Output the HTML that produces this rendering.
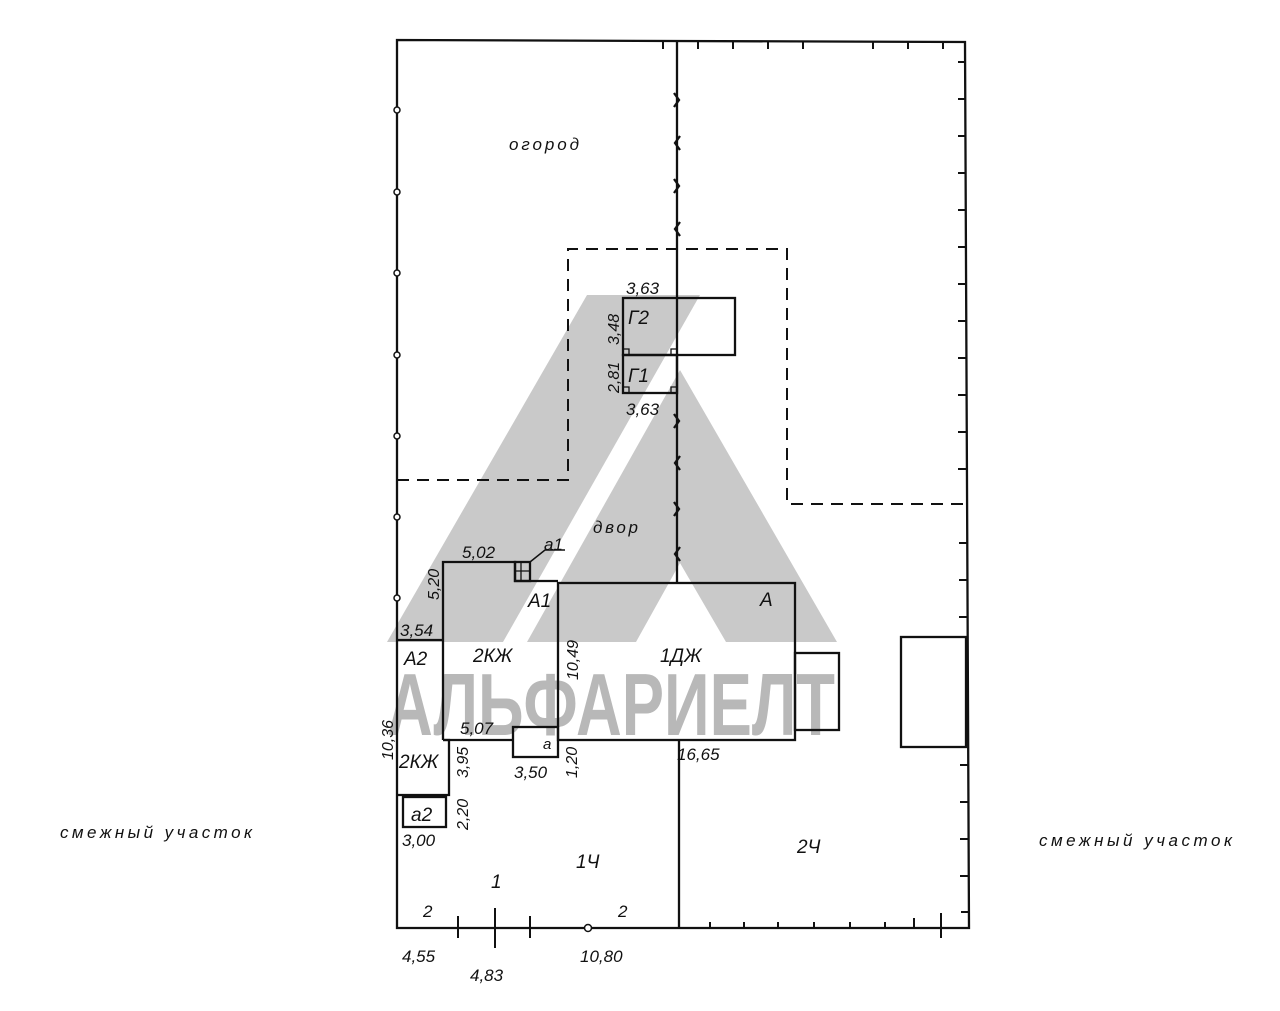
<!DOCTYPE html>
<html><head><meta charset="utf-8"><style>
html,body{margin:0;padding:0;background:#fff}
svg{display:block}
text{font-family:"Liberation Sans","DejaVu Sans",sans-serif;font-style:italic;fill:#111}
</style></head><body>
<svg width="1280" height="1011" viewBox="0 0 1280 1011" xmlns="http://www.w3.org/2000/svg">
<rect width="1280" height="1011" fill="#fff"/>
<!-- watermark -->
<polygon points="387,642 503,642 700,295 587,295" fill="#c9c9c9"/>
<polygon points="527,642 680,370 837,642 726,642 680,563 636,642" fill="#c9c9c9"/>
<text x="387" y="735" font-size="88" textLength="448" lengthAdjust="spacingAndGlyphs" style="font-style:normal;font-weight:bold;fill:#b8b8b8">АЛЬФАРИЕЛТ</text>

<g stroke="#111" stroke-width="2.3" fill="none">
<!-- boundary -->
<path d="M397,40 L965,42 L969,928 L397,928 Z"/>
<!-- center fence -->
<line x1="677" y1="41" x2="677" y2="583"/>
<line x1="679" y1="740" x2="679" y2="928"/>
<!-- buildings -->
<rect x="623" y="298" width="112" height="57"/>
<rect x="623" y="355" width="54" height="38"/>
<rect x="558" y="583" width="237" height="157"/>
<rect x="795" y="653" width="44" height="77"/>
<rect x="901" y="637" width="65" height="110"/>
<path d="M443,740 L443,562 L515,562 L515,581 L558,581"/>
<rect x="515" y="562" width="15" height="19"/>
<path d="M443,740 L513,740"/>
<rect x="513" y="727" width="45" height="30"/>
<path d="M397,640 L443,640"/>
<path d="M443,740 L449,740 L449,795 L397,795"/>
<rect x="403" y="797" width="43" height="30"/>
<path d="M530,562 L545,550 L565,550" stroke-width="1.5"/>
</g>
<g stroke="#111" stroke-width="1.3" fill="none">
<path d="M521,562 V581 M515,571 H530"/>
<path d="M623,349 h6 v6 M677,349 h-6 v6 M623,387 h6 v6 M677,387 h-6 v6"/>
</g>
<!-- dashed -->
<path d="M397,480 L568,480 L568,249 L787,249 L787,504 L965,504" stroke="#111" stroke-width="2" fill="none" stroke-dasharray="12,8"/>
<!-- ticks -->
<g stroke="#111" stroke-width="2">
<line x1="663" y1="42" x2="663" y2="49"/><line x1="698" y1="42" x2="698" y2="49"/><line x1="733" y1="42" x2="733" y2="49"/><line x1="768" y1="42" x2="768" y2="49"/><line x1="803" y1="42" x2="803" y2="49"/><line x1="873" y1="42" x2="873" y2="49"/><line x1="908" y1="42" x2="908" y2="49"/><line x1="943" y1="42" x2="943" y2="49"/>
<line x1="958" y1="62" x2="965" y2="62"/><line x1="958" y1="99" x2="965" y2="99"/><line x1="958" y1="136" x2="965" y2="136"/><line x1="958" y1="173" x2="965" y2="173"/><line x1="958" y1="210" x2="965" y2="210"/><line x1="958" y1="247" x2="965" y2="247"/><line x1="958" y1="284" x2="966" y2="284"/><line x1="958" y1="321" x2="966" y2="321"/><line x1="958" y1="358" x2="966" y2="358"/><line x1="958" y1="395" x2="966" y2="395"/><line x1="958" y1="432" x2="966" y2="432"/><line x1="958" y1="469" x2="966" y2="469"/><line x1="959" y1="543" x2="967" y2="543"/><line x1="959" y1="580" x2="967" y2="580"/><line x1="959" y1="617" x2="967" y2="617"/><line x1="960" y1="765" x2="968" y2="765"/><line x1="960" y1="802" x2="968" y2="802"/><line x1="960" y1="839" x2="968" y2="839"/><line x1="960" y1="876" x2="968" y2="876"/><line x1="961" y1="912" x2="969" y2="912"/>
<line x1="458" y1="916" x2="458" y2="938"/><line x1="495" y1="908" x2="495" y2="948"/><line x1="530" y1="916" x2="530" y2="938"/>
<line x1="710" y1="922" x2="710" y2="928"/><line x1="744" y1="922" x2="744" y2="928"/><line x1="778" y1="922" x2="778" y2="928"/><line x1="814" y1="922" x2="814" y2="928"/><line x1="850" y1="922" x2="850" y2="928"/><line x1="885" y1="922" x2="885" y2="928"/><line x1="914" y1="918" x2="914" y2="928"/><line x1="941" y1="913" x2="941" y2="938"/>
</g>
<!-- fence marks -->
<g stroke="#111" stroke-width="2.3" fill="none">
<path d="M674,93 l5,7 l-5,7"/><path d="M680,136 l-5,7 l5,7"/><path d="M674,179 l5,7 l-5,7"/><path d="M680,222 l-5,7 l5,7"/>
<path d="M674,414 l5,7 l-5,7"/><path d="M680,456 l-5,7 l5,7"/><path d="M674,502 l5,7 l-5,7"/><path d="M680,547 l-5,7 l5,7"/>
</g>
<!-- circles -->
<g stroke="#111" stroke-width="1.5" fill="#fff">
<circle cx="397" cy="110" r="3"/><circle cx="397" cy="192" r="3"/><circle cx="397" cy="273" r="3"/><circle cx="397" cy="355" r="3"/><circle cx="397" cy="436" r="3"/><circle cx="397" cy="517" r="3"/><circle cx="397" cy="598" r="3"/><circle cx="588" cy="928" r="3.5"/>
</g>
<!-- labels -->
<g font-size="17">
<text x="509" y="150" textLength="70">огород</text>
<text x="593" y="533" textLength="45">двор</text>
<text x="626" y="294">3,63</text>
<text x="626" y="415">3,63</text>
<text x="628" y="324" font-size="19">Г2</text>
<text x="628" y="382" font-size="19">Г1</text>
<text x="619" y="345" transform="rotate(-90 619 345)" font-size="16">3,48</text>
<text x="619" y="393" transform="rotate(-90 619 393)" font-size="16">2,81</text>
<text x="462" y="558">5,02</text>
<text x="544" y="550">а1</text>
<text x="439" y="600" transform="rotate(-90 439 600)" font-size="16">5,20</text>
<text x="528" y="607" font-size="19">А1</text>
<text x="760" y="606" font-size="19">А</text>
<text x="400" y="636">3,54</text>
<text x="404" y="665" font-size="19">А2</text>
<text x="473" y="662" font-size="19">2КЖ</text>
<text x="660" y="662" font-size="19">1ДЖ</text>
<text x="578" y="680" transform="rotate(-90 578 680)" font-size="16">10,49</text>
<text x="460" y="734">5,07</text>
<text x="543" y="749" font-size="15">а</text>
<text x="514" y="778">3,50</text>
<text x="577" y="778" transform="rotate(-90 577 778)" font-size="16">1,20</text>
<text x="677" y="760">16,65</text>
<text x="393" y="760" transform="rotate(-90 393 760)" font-size="16">10,36</text>
<text x="399" y="768" font-size="19">2КЖ</text>
<text x="468" y="778" transform="rotate(-90 468 778)" font-size="16">3,95</text>
<text x="468" y="830" transform="rotate(-90 468 830)" font-size="16">2,20</text>
<text x="411" y="821" font-size="19">а2</text>
<text x="402" y="846">3,00</text>
<text x="576" y="868" font-size="19">1Ч</text>
<text x="797" y="853" font-size="19">2Ч</text>
<text x="491" y="888" font-size="19">1</text>
<text x="423" y="917">2</text>
<text x="618" y="917">2</text>
<text x="402" y="962">4,55</text>
<text x="470" y="981">4,83</text>
<text x="580" y="962">10,80</text>
<text x="60" y="838" textLength="192">смежный участок</text>
<text x="1039" y="846" textLength="193">смежный участок</text>
</g>
</svg>
</body></html>
